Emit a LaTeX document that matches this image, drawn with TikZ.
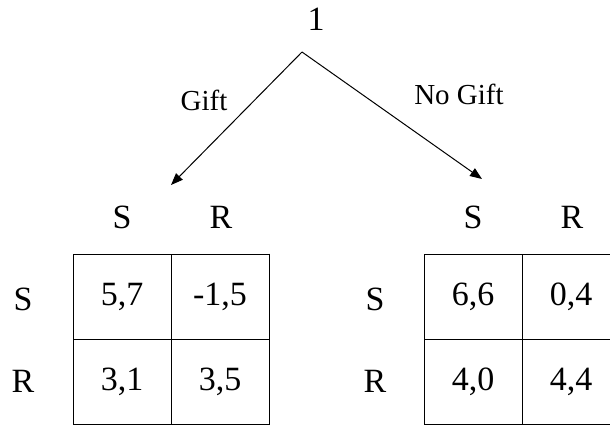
\documentclass[tikz,border=0pt]{standalone}
\usepackage{fontspec}
\setmainfont{Liberation Serif}
\usetikzlibrary{arrows.meta}
\def\paysize{\fontsize{17}{20}\selectfont}
\def\movesize{\fontsize{14.5}{17}\selectfont}
\tikzstyle{payoff}=[draw,line width=0.5pt,minimum width=49pt,
                  minimum height=42.5pt,inner sep=0pt,font=\paysize]
\tikzstyle{strat}=[font=\paysize]
\tikzstyle{move}=[font=\movesize]
\tikzstyle{branch}=[line width=0.5pt,-{Triangle[length=6pt,width=4.6pt]}]
\tikzstyle{rim}=[line width=0.9pt]

\begin{document}
\begin{tikzpicture}[x=0.5pt,y=-0.5pt]
  \useasboundingbox (0,0) rectangle (610,424);
  % Place first mover and branches
  \node[strat] (p1) at (316,19) {1};
  \coordinate (root) at (302,52);
  \coordinate (giftend) at (171,185);
  \coordinate (nogiftend) at (482,179);
  \draw[branch] (root) -- (giftend);
  \draw[branch] (root) -- (nogiftend);
  \node[move] (gift) at (204,100) {Gift};
  \node[move] (nogift) at (459,94) {No Gift};

  % Gift game
  \node[strat] (gS) at (122,217) {S};
  \node[strat] (gR) at (221,217) {R};
  \node[strat] (gSr) at (23,299) {S};
  \node[strat] (gRr) at (23,381) {R};
  \node[payoff] (g11) at (122,296.5) {5,7};
  \node[payoff] (g12) at (220,296.5) {-1,5};
  \node[payoff] (g21) at (122,381.5) {3,1};
  \node[payoff] (g22) at (220,381.5) {3,5};
  \draw[rim] (g12.north east) -- (g22.south east) -- (g21.south west);

  % No gift game
  \node[strat] (nS) at (473,217) {S};
  \node[strat] (nR) at (572,217) {R};
  \node[strat] (nSr) at (375,299) {S};
  \node[strat] (nRr) at (375,381) {R};
  \node[payoff] (n11) at (473,296.5) {6,6};
  \node[payoff] (n12) at (571,296.5) {0,4};
  \node[payoff] (n21) at (473,381.5) {4,0};
  \node[payoff] (n22) at (571,381.5) {4,4};
  \draw[rim] (n12.north east) -- (n22.south east) -- (n21.south west);

\end{tikzpicture}
\end{document}
